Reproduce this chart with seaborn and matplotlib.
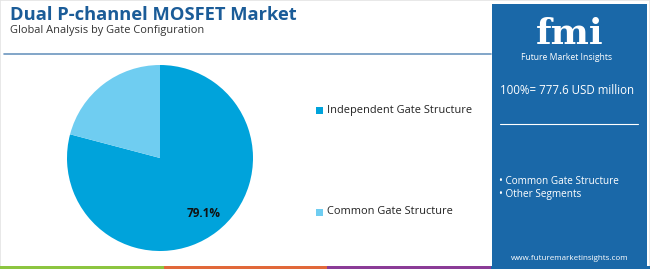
import matplotlib
matplotlib.use("Agg")
import matplotlib.pyplot as plt
import seaborn as sns
from matplotlib.patches import Rectangle
from matplotlib.lines import Line2D

# ---- data ----
categories = ["Independent Gate Structure", "Common Gate Structure"]
shares = [79.1, 20.9]
panel_segments = ["Common Gate Structure", "Other Segments"]
total_label = "100%= 777.6 USD million"
title = "Dual P-channel MOSFET Market"
subtitle = "Global Analysis by Gate Configuration"

sns.set_theme(style="white")
plt.rcParams['font.family'] = ['Open Sans', 'DejaVu Sans']

colors = ["#00a3db", "#6fcdf1"]
W, H = 650, 269
fig = plt.figure(figsize=(W / 100, H / 100), dpi=100)
fig.patch.set_facecolor("white")

def fx(x): return x / W
def fy(y): return 1 - y / H

# border
fig.add_artist(Rectangle((0, 0), 1, 1, transform=fig.transFigure, fill=False,
                         edgecolor="#e4e4e4", lw=1.2))

# title
fig.text(fx(10), fy(15), title, fontsize=13.2, fontweight="bold", color="#1b5c98",
         va="center", ha="left")
fig.text(fx(10), fy(31), subtitle, fontsize=7.9, color="#333333", va="center", ha="left")
fig.add_artist(Line2D([fx(4), fx(491)], [fy(54), fy(54)], transform=fig.transFigure,
                      color="#6c96bf", lw=1.2))

# bottom strips
strip_cols = ["#8cc540", "#e1683a", "#8b3c97", "#1a68a8"]
for i, c in enumerate(strip_cols):
    fig.add_artist(Rectangle((fx(i * 163.5), 0), fx(163.5), 3 / H, transform=fig.transFigure,
                             color=c, lw=0))

# pie
cx, cy, r = 160, 158, 93
ax = fig.add_axes([fx(cx - r), fy(cy + r), 2 * r / W, 2 * r / H])
wedges, texts, autotexts = ax.pie(
    shares, colors=colors, startangle=90, counterclock=False,
    autopct=lambda p: f"{p:.1f}%" if p > 50 else "", pctdistance=0.76,
    wedgeprops=dict(linewidth=0), textprops=dict(fontsize=8.5, fontweight="bold", color="#111111"))
ax.set_xlim(-1, 1)
ax.set_ylim(-1, 1)
ax.set_aspect("auto")
ax.axis("off")

# legend
leg_y = [110, 212]
for lab, col, y in zip(categories, colors, leg_y):
    fig.add_artist(Rectangle((fx(316), fy(y + 3.5)), 7 / W, 7 / H, transform=fig.transFigure,
                             color=col, lw=0))
    fig.text(fx(327), fy(y), lab, fontsize=7.9, color="#222222", va="center", ha="left")

# side panel
px0, px1 = 492, 647
fig.add_artist(Rectangle((fx(px0), 0), fx(px1 - px0), fy(4), transform=fig.transFigure,
                         color="#1a68a8", lw=0))
pcx = (px0 + px1) / 2
fig.text(fx(pcx), fy(44), "fmi", fontsize=26, fontweight="bold", color="white",
         family=["DejaVu Serif"], ha="center", va="baseline")
fig.text(fx(pcx - 3), fy(57), "Future Market Insights", fontsize=6.2, color="white",
         ha="center", va="center")
fig.text(fx(pcx - 2), fy(91), total_label, fontsize=8.3, color="white", ha="center", va="center")
fig.add_artist(Line2D([fx(500), fx(638)], [fy(124), fy(124)], transform=fig.transFigure,
                      color="white", lw=0.8))
for i, s in enumerate(panel_segments):
    fig.text(fx(499), fy(181 + 13.5 * i), "• " + s, fontsize=7.2, color="white",
             ha="left", va="center")
fig.text(fx(pcx), fy(258), "www.futuremarketinsights.com", fontsize=5.8, color="white",
         ha="center", va="center")

fig.savefig("out.png", dpi=100)
